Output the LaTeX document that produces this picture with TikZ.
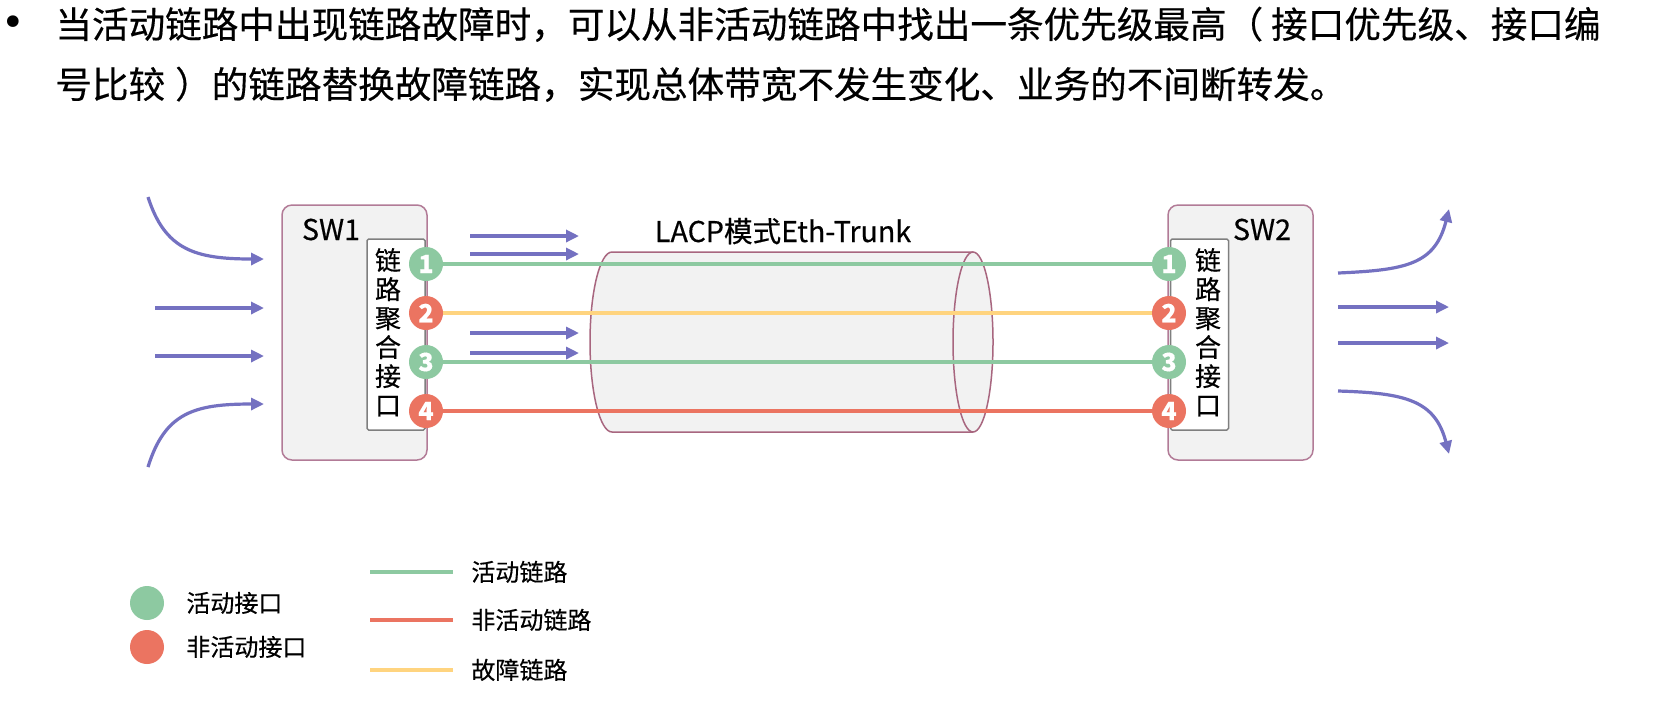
\documentclass[tikz,border=0pt]{standalone}
\usepackage{fontspec}
\setmainfont{Noto Sans CJK SC}[RawFeature={embolden=0.4}]
\newfontfamily\bulfont{DejaVu Sans}
\usetikzlibrary{arrows.meta}
\definecolor{actg}{HTML}{8DC9A1}
\definecolor{inact}{HTML}{EB7461}
\definecolor{fault}{HTML}{FFD47F}
\definecolor{flow}{HTML}{7471C1}
\definecolor{boxb}{HTML}{B27B97}
\definecolor{cylb}{HTML}{A8667F}
\definecolor{boxf}{HTML}{F2F2F2}
\definecolor{innerb}{HTML}{7F7F7F}
\tikzset{
  swbox/.style={draw=boxb, fill=boxf, line width=0.75pt, rounded corners=5pt,
    minimum width=72.5pt, minimum height=127.5pt, inner sep=0pt},
  innerbox/.style={draw=innerb, fill=white, line width=0.75pt, rounded corners=0.8pt,
    minimum width=29pt, minimum height=95.5pt, inner sep=0pt},
  port/.style={circle, minimum size=17pt, inner sep=0pt, text=white,
    font=\fontsize{12.5}{12.5}\selectfont\bfseries},
  vchar/.style={anchor=base, inner sep=0pt, font=\fontsize{13}{13}\selectfont},
  swlabel/.style={anchor=base, inner sep=0pt, font=\fontsize{14.3}{14.3}\selectfont},
  legtext/.style={anchor=base west, inner sep=0pt, font=\fontsize{12}{12}\selectfont},
  bodytext/.style={anchor=base west, inner sep=0pt, font=\fontsize{18.3}{18.3}\selectfont},
  link/.style={line width=2pt},
  flowarrow/.style={draw=flow, line width=1.6pt, -{Triangle[length=6.5pt,width=6pt]}},
}
\begin{document}
\begin{tikzpicture}[x=0.5pt,y=-0.5pt]
\useasboundingbox (0,0) rectangle (1657,709);
\fill[white] (0,0) rectangle (1657,709);

% top text
\node[anchor=center, inner sep=0pt, font=\bulfont\fontsize{20}{20}\selectfont] (bul) at (13,26) {•};
\node[bodytext] (t1) at (55,38) {当活动链路中出现链路故障时，可以从非活动链路中找出一条优先级最高（\hspace{4pt}接口优先级、接口编};
\node[bodytext] (t2) at (55,98) {号比较\hspace{5pt}）的链路替换故障链路，实现总体带宽不发生变化、业务的不间断转发。};

% cylinder
\fill[boxf] (612,252) arc[start angle=270, end angle=90, x radius=22, y radius=90] -- (973,432) -- (973,252) -- cycle;
\fill[boxf] (973,342) ellipse [x radius=20, y radius=90];
\draw[cylb, line width=0.75pt] (973,252) -- (612,252) arc[start angle=270, end angle=90, x radius=22, y radius=90] -- (973,432);
\draw[cylb, line width=0.75pt] (973,342) ellipse [x radius=20, y radius=90];
\node[swlabel] (lacp) at (783,242) {LACP模式Eth-Trunk};

% switches
\node[swbox] (sw1) at (354.5,332.5) {};
\node[swbox] (sw2) at (1240.5,332.5) {};
\node[swlabel] (sw1l) at (331,240) {SW1};
\node[swlabel] (sw2l) at (1262,240) {SW2};
\node[innerbox] (ib1) at (396,334.5) {};
\node[innerbox] (ib2) at (1199.5,334.5) {};
\foreach \c [count=\i from 0] in {链,路,聚,合,接,口}{
  \node[vchar] (la\i) at (388,{270+29*\i}) {\c};
  \node[vchar] (lb\i) at (1208,{270+29*\i}) {\c};
}

% ports
\node[port, fill=actg]  (p1) at (426,264) {1};
\node[port, fill=inact] (p2) at (426,313) {2};
\node[port, fill=actg]  (p3) at (426,362) {3};
\node[port, fill=inact] (p4) at (426,411) {4};
\node[port, fill=actg]  (q1) at (1169,264) {1};
\node[port, fill=inact] (q2) at (1169,313) {2};
\node[port, fill=actg]  (q3) at (1169,362) {3};
\node[port, fill=inact] (q4) at (1169,411) {4};

% links
\draw[link, actg]  (p1) -- (q1);
\draw[link, fault] (p2) -- (q2);
\draw[link, actg]  (p3) -- (q3);
\draw[link, inact] (p4) -- (q4);

% flow arrows, left
\coordinate (l1s) at (148,197); \coordinate (l1e) at (264,259);
\coordinate (l2s) at (155,308); \coordinate (l2e) at (264,308);
\coordinate (l3s) at (155,356); \coordinate (l3e) at (264,356);
\coordinate (l4s) at (148,467); \coordinate (l4e) at (264,404);
\draw[flowarrow] (l1s) .. controls (165,250) and (195,259) .. (l1e);
\draw[flowarrow] (l2s) -- (l2e);
\draw[flowarrow] (l3s) -- (l3e);
\draw[flowarrow] (l4s) .. controls (165,412) and (195,404) .. (l4e);

% flow arrows, middle
\foreach \y [count=\k] in {236,254,333,353}{
  \coordinate (m\k s) at (470,\y); \coordinate (m\k e) at (579,\y);
  \draw[flowarrow] (m\k s) -- (m\k e);
}

% flow arrows, right
\coordinate (r1s) at (1338,273); \coordinate (r1e) at (1449,209);
\coordinate (r2s) at (1338,307); \coordinate (r2e) at (1449,307);
\coordinate (r3s) at (1338,343); \coordinate (r3e) at (1449,343);
\coordinate (r4s) at (1338,391); \coordinate (r4e) at (1449,454);
\draw[flowarrow] (r1s) .. controls (1405,270) and (1435,265) .. (r1e);
\draw[flowarrow] (r2s) -- (r2e);
\draw[flowarrow] (r3s) -- (r3e);
\draw[flowarrow] (r4s) .. controls (1405,393) and (1435,400) .. (r4e);

% legend
\node[circle, fill=actg, minimum size=17pt, inner sep=0pt] (lg1) at (147,603) {};
\node[circle, fill=inact, minimum size=17pt, inner sep=0pt] (lg2) at (147,647) {};
\node[legtext] (lgt1) at (186,612) {活动接口};
\node[legtext] (lgt2) at (186,656) {非活动接口};
\coordinate (ll1s) at (370,572); \coordinate (ll1e) at (453,572);
\coordinate (ll2s) at (370,620); \coordinate (ll2e) at (453,620);
\coordinate (ll3s) at (370,670); \coordinate (ll3e) at (453,670);
\draw[link, actg]  (ll1s) -- (ll1e);
\draw[link, inact] (ll2s) -- (ll2e);
\draw[link, fault] (ll3s) -- (ll3e);
\node[legtext] (lgt3) at (471,581) {活动链路};
\node[legtext] (lgt4) at (471,629) {非活动链路};
\node[legtext] (lgt5) at (471,679) {故障链路};
\end{tikzpicture}
\end{document}
